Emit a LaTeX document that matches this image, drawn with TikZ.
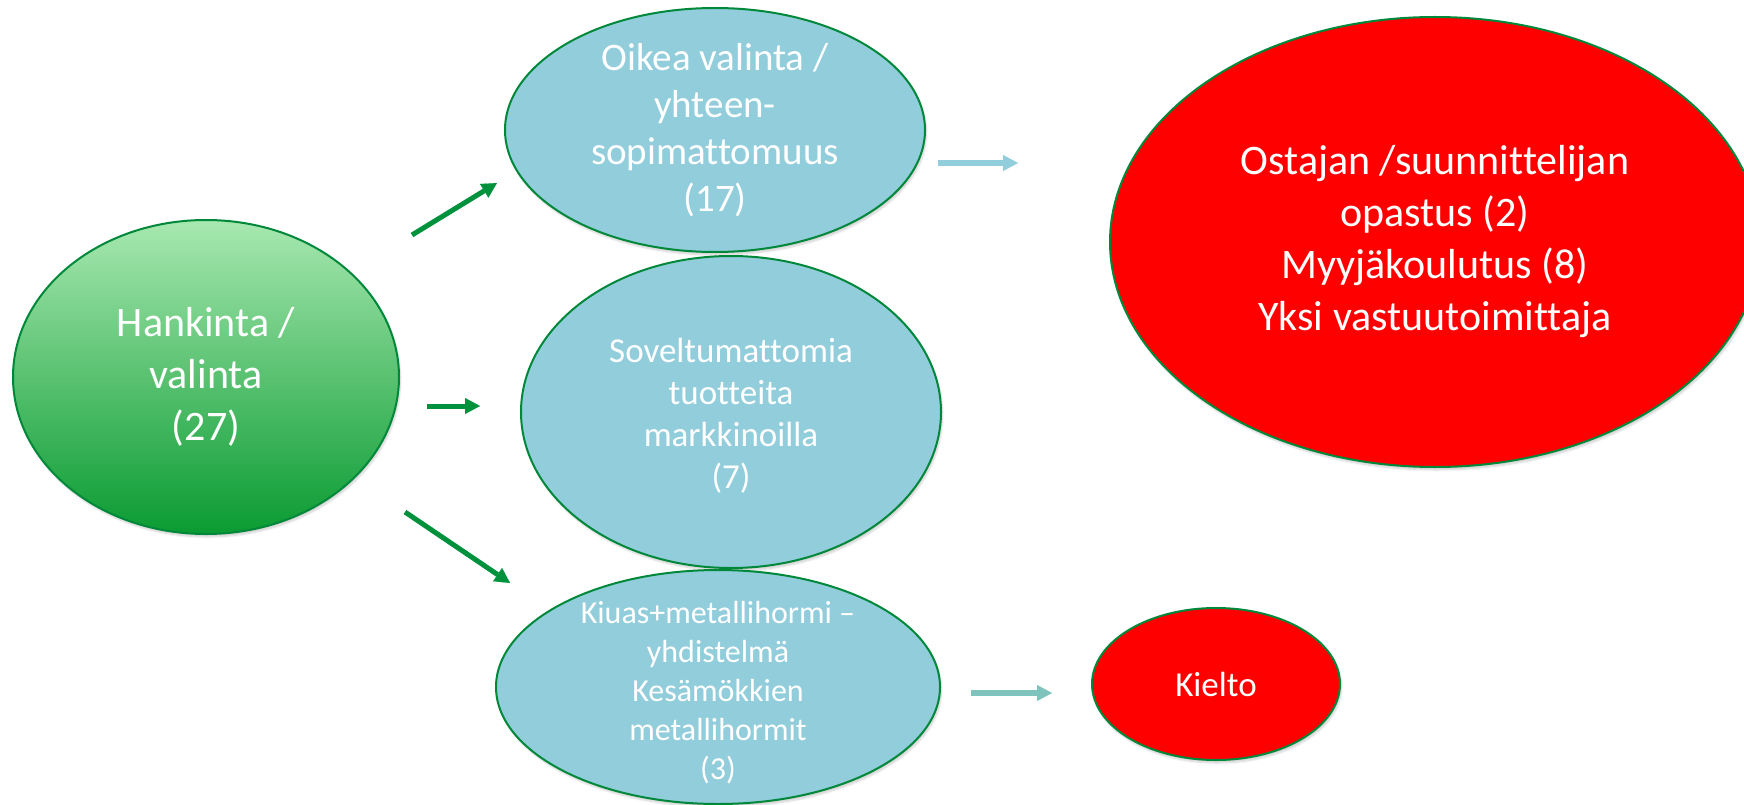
\documentclass[tikz,border=0pt]{standalone}
\usepackage{fontspec}
\setmainfont{Carlito}[Ligatures=NoCommon]
\usetikzlibrary{arrows.meta,shapes.geometric,shadows.blur}
\definecolor{edgegreen}{RGB}{0,136,58}
\definecolor{arrowgreen}{RGB}{0,145,60}
\definecolor{gtop}{RGB}{168,232,176}
\definecolor{gbot}{RGB}{10,155,50}
\definecolor{bluefill}{RGB}{146,205,220}
\definecolor{tealarrow}{RGB}{127,196,188}
\definecolor{redfill}{RGB}{255,0,0}
\begin{document}
\begin{tikzpicture}[x=1pt,y=-1pt,
  ell/.style={ellipse, draw=edgegreen, line width=2pt, inner sep=0pt,
    blur shadow={shadow xshift=1.5pt, shadow yshift=-3pt, shadow opacity=18, shadow blur steps=6}},
  blueell/.style={ell, fill=bluefill},
  redell/.style={ell, fill=redfill},
  greenell/.style={ell, top color=gtop, bottom color=gbot},
  txt/.style={text=white, align=center, inner sep=0pt},
  garrow/.style={draw=arrowgreen, line width=5pt, -{Triangle[length=15pt,width=16pt,line width=0.1pt]}},
  barrow/.style={draw=bluefill, line width=5.5pt, -{Triangle[length=15pt,width=16pt,line width=0.1pt]}},
  tarrow/.style={draw=tealarrow, line width=5.5pt, -{Triangle[length=15pt,width=16pt,line width=0.1pt]}}
]
\useasboundingbox (0,0) rectangle (1744,805);
\clip (0,0) rectangle (1744,805);

% ellipses
\node[greenell, minimum width=386pt, minimum height=314pt] (g) at (206,377) {};
\node[blueell, minimum width=420pt, minimum height=244pt] (b1) at (715,130) {};
\node[blueell, minimum width=420pt, minimum height=312pt] (b2) at (731,412) {};
\node[blueell, minimum width=444pt, minimum height=234pt] (b3) at (718,687) {};
\node[redell, minimum width=650pt, minimum height=450pt] (r1) at (1435,242) {};
\node[redell, minimum width=248pt, minimum height=152pt] (r2) at (1216,684) {};

% texts
\node[txt, font=\fontsize{42}{52}\selectfont] (gt) at (g) {Hankinta /\\valinta\\(27)};
\node[txt, font=\fontsize{39}{47}\selectfont] (b1t) at (b1) {Oikea valinta /\\yhteen-\\sopimattomuus\\(17)};
\node[txt, font=\fontsize{35}{42}\selectfont] (b2t) at ([yshift=-4pt]b2.center) {Soveltumattomia\\tuotteita\\markkinoilla\\(7)};
\node[txt, font=\fontsize{32}{39}\selectfont] (b3t) at ([yshift=-6pt]b3.center) {Kiuas+metallihormi –\\yhdistelmä\\Kesämökkien\\metallihormit\\(3)};
\node[txt, font=\fontsize{42}{52}\selectfont] (r1t) at (r1) {Ostajan /suunnittelijan\\opastus (2)\\Myyjäkoulutus (8)\\Yksi vastuutoimittaja};
\node[txt, font=\fontsize{35}{42}\selectfont] (r2t) at (r2) {Kielto};

% arrow end points
\coordinate (a1s) at (412,235);
\coordinate (a1e) at (497,183);
\coordinate (a2s) at (427,406);
\coordinate (a2e) at (480,406);
\coordinate (a3s) at (405,512);
\coordinate (a3e) at (510,583);
\coordinate (a4s) at (938,163);
\coordinate (a4e) at (1018,163);
\coordinate (a5s) at (971,693);
\coordinate (a5e) at (1052,693);

\draw[garrow] (a1s) -- (a1e);
\draw[garrow] (a2s) -- (a2e);
\draw[garrow] (a3s) -- (a3e);
\draw[barrow] (a4s) -- (a4e);
\draw[tarrow] (a5s) -- (a5e);
\end{tikzpicture}
\end{document}
